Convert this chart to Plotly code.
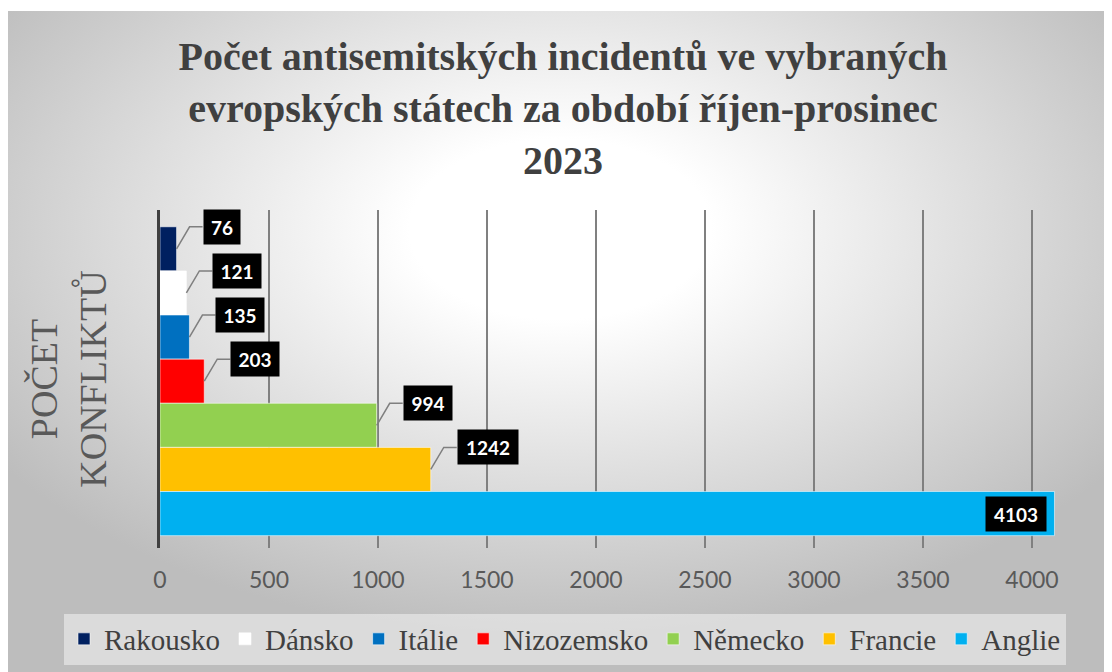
import base64
import plotly.graph_objects as go

# ---- data ----
countries = ["Rakousko", "Dánsko", "Itálie", "Nizozemsko", "Německo", "Francie", "Anglie"]
incidents = [76, 121, 135, 203, 994, 1242, 4103]
colors = ["#002060", "#FFFFFF", "#0070C0", "#FF0000", "#92D050", "#FFC000", "#00B0F0"]
x_ticks = [0, 500, 1000, 1500, 2000, 2500, 3000, 3500, 4000]
title_text = "Počet antisemitských incidentů ve vybraných<br>evropských státech za období říjen-prosinec<br>2023"
y_title = "POČET<br>KONFLIKTŮ"

# ---- layout geometry (px) ----
W, H = 1104, 664
ML, MR, MT, MB = 152, 56, 202, 124
PW, PH = W - ML - MR, H - MT - MB

fig = go.Figure()
for name, val, col in zip(countries, incidents, colors):
    fig.add_trace(go.Bar(
        x=[val], y=[name], name=name, orientation="h",
        width=1.0,
        marker=dict(color=col, line=dict(color="rgba(255,255,255,0.55)", width=1)),
        hoverinfo="x+name",
    ))

# data labels with bent leader lines
shapes = []
annotations = []
for name, val in zip(countries, incidents):
    txt = str(val)
    bw = 12 * len(txt) + 12
    if val == max(incidents):
        annotations.append(dict(
            x=val, y=name, xref="x", yref="y", text="<b>%s</b>" % txt,
            showarrow=False, xanchor="right", yanchor="middle", xshift=-7,
            bgcolor="black", width=bw, height=34, borderpad=0,
            font=dict(family="Lato", size=19, color="white"),
        ))
    else:
        shapes.append(dict(
            type="path", xref="x", yref="y", xsizemode="pixel", ysizemode="pixel",
            xanchor=val, yanchor=name, path="M0,0 L13,22 L26,22",
            line=dict(color="#7F7F7F", width=1.5),
        ))
        annotations.append(dict(
            x=val, y=name, xref="x", yref="y", text="<b>%s</b>" % txt,
            showarrow=False, xanchor="left", yanchor="middle", xshift=26, yshift=22,
            bgcolor="black", width=bw, height=34, borderpad=0,
            font=dict(family="Lato", size=19, color="white"),
        ))

# radial gradient background as SVG image
svg = (
    '<svg xmlns="http://www.w3.org/2000/svg" width="1104" height="661" preserveAspectRatio="none">'
    '<defs><radialGradient id="g" cx="50%" cy="33%" r="62%">'
    '<stop offset="0%" stop-color="#ffffff"/>'
    '<stop offset="22%" stop-color="#ffffff"/>'
    '<stop offset="100%" stop-color="#bdbdbd"/>'
    '</radialGradient></defs>'
    '<rect x="0" y="0" width="1104" height="661" fill="url(#g)"/></svg>'
)
src = "data:image/svg+xml;base64," + base64.b64encode(svg.encode()).decode()
bx0, by0 = 0, 3
images = [dict(
    source=src, xref="paper", yref="paper",
    x=(bx0 - ML) / PW, y=(H - MB - by0) / PH,
    sizex=(W - bx0) / PW, sizey=(H - by0) / PH,
    xanchor="left", yanchor="top", sizing="stretch", layer="below",
)]

fig.update_layout(
    width=W, height=H,
    margin=dict(l=ML, r=MR, t=MT, b=MB, autoexpand=False),
    paper_bgcolor="white", plot_bgcolor="rgba(0,0,0,0)",
    barmode="overlay",
    title=dict(
        text=title_text, x=555 / W, xanchor="center", xref="container",
        y=1 - 62 / H, yanchor="top",
        font=dict(family="Liberation Serif", size=40, color="#404040", weight="bold"),
    ),
    xaxis=dict(
        range=[0, 4110], tickvals=x_ticks, ticktext=[str(v) for v in x_ticks],
        showgrid=True, gridcolor="#808080", gridwidth=2, zeroline=False,
        showline=False, ticks="outside", ticklen=11, tickcolor="rgba(0,0,0,0)",
        tickfont=dict(family="Lato", size=23, color="#595959"),
        fixedrange=True,
    ),
    yaxis=dict(
        type="category", categoryorder="array", categoryarray=countries,
        range=[6.78, -0.88], showticklabels=False, showgrid=False, zeroline=False,
        showline=True, linecolor="#404040", linewidth=3, ticks="",
        title=dict(text=y_title, standoff=39,
                   font=dict(family="Liberation Serif", size=38, color="#595959")),
        fixedrange=True,
    ),
    legend=dict(
        orientation="h", x=(56 - ML) / PW, xanchor="left",
        y=-(631 - (H - MB)) / PH, yanchor="middle",
        bgcolor="rgba(255,255,255,0.45)", traceorder="normal",
        font=dict(family="Liberation Serif", size=29, color="#404040"),
    ),
    shapes=shapes, annotations=annotations, images=images,
    showlegend=True,
)

fig.write_html("out.html")
